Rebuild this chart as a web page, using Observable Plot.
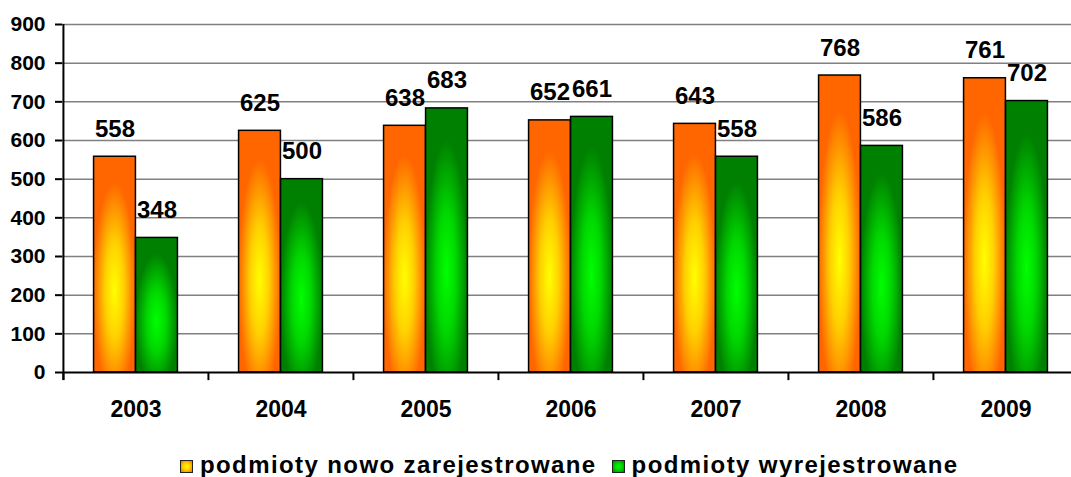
<!DOCTYPE html>
<html>
<head>
<meta charset="utf-8">
<script src="https://cdn.jsdelivr.net/npm/d3@7"></script>
<script src="https://cdn.jsdelivr.net/npm/@observablehq/plot@0.6"></script>
<style>
  html, body { margin: 0; padding: 0; background: #fff; overflow: hidden; }
  #wrap { position: relative; width: 1071px; height: 477px; overflow: hidden; font-family: "Liberation Sans", Arial, sans-serif; }
  #legend { position: absolute; left: 180px; top: 452px; font-weight: bold; font-size: 24px; white-space: nowrap; line-height: 26px; }
  .sw { display: inline-block; width: 11px; height: 11px; border: 1.5px solid #222; vertical-align: 0px; margin-right: 7px; }
  .item { display: inline-block; margin-right: 15px; }
</style>
</head>
<body>
<svg width="0" height="0" style="position:absolute">
  <defs>
    <radialGradient id="gOrange" cx="0.5" cy="0.62" r="0.5" gradientUnits="objectBoundingBox">
      <stop offset="0" stop-color="#ffff00"/>
      <stop offset="0.45" stop-color="#ffd000"/>
      <stop offset="1" stop-color="#ff6600"/>
    </radialGradient>
    <radialGradient id="gGreen" cx="0.5" cy="0.62" r="0.5" gradientUnits="objectBoundingBox">
      <stop offset="0" stop-color="#00ff00"/>
      <stop offset="0.45" stop-color="#00d800"/>
      <stop offset="1" stop-color="#008000"/>
    </radialGradient>
  </defs>
</svg>
<div id="wrap">
  <div id="chart"></div>
  <div id="legend"></div>
</div>
<script>
const years = ["2003", "2004", "2005", "2006", "2007", "2008", "2009"];
const registered = [558, 625, 638, 652, 643, 768, 761];
const deregistered = [348, 500, 683, 661, 558, 586, 702];
const seriesNames = ["podmioty nowo zarejestrowane", "podmioty wyrejestrowane"];
const yTicks = [0, 100, 200, 300, 400, 500, 600, 700, 800, 900];

const data1 = years.map((year, i) => ({year, value: registered[i]}));
const data2 = years.map((year, i) => ({year, value: deregistered[i]}));

const W = 1071, mL = 62, mR = -7;
const bw = (W - mL - mR) / years.length;   // band width
const barW = 42;
const gap = (bw - 2 * barW) / 2;

const chart = Plot.plot({
  width: W,
  height: 450,
  marginLeft: mL,
  marginRight: mR,
  marginTop: 24,
  marginBottom: 78,
  style: {fontFamily: "'Liberation Sans', Arial, sans-serif", background: "transparent", overflow: "visible"},
  x: {domain: years, padding: 0, axis: null},
  y: {domain: [0, 900], axis: null},
  marks: [
    Plot.ruleY(yTicks.slice(1), {stroke: "#808080", strokeWidth: 1.5}),
    Plot.barY(data1, {x: "year", y: "value", fill: "url(#gOrange)", stroke: "#000", strokeWidth: 1.5,
      insetLeft: gap, insetRight: bw - gap - barW}),
    Plot.barY(data2, {x: "year", y: "value", fill: "url(#gGreen)", stroke: "#000", strokeWidth: 1.5,
      insetLeft: gap + barW, insetRight: gap}),
    Plot.text(data1, {x: "year", y: "value", text: d => String(d.value), dx: -barW / 2, dy: -20,
      lineAnchor: "bottom", fontSize: 24, fontWeight: "bold", fill: "#000"}),
    Plot.text(data2, {x: "year", y: "value", text: d => String(d.value), dx: barW / 2, dy: -20,
      lineAnchor: "bottom", fontSize: 24, fontWeight: "bold", fill: "#000"}),
    Plot.ruleY([0], {stroke: "#000", strokeWidth: 2}),
    Plot.ruleX(years, {x: d => d, dx: -bw / 2, y1: 0, y2: -21, stroke: "#000", strokeWidth: 2}),
    Plot.ruleX(years.slice(0, 1), {x: d => d, dx: -bw / 2, y1: -21, y2: 900, stroke: "#000", strokeWidth: 2}),
    Plot.axisY({ticks: yTicks, label: null, tickSize: 7, tickPadding: 10, fontSize: 21, fontWeight: "bold", strokeWidth: 2, tickFormat: d => String(d)}),
    Plot.text(years, {x: d => d, y: 0, dy: 37, text: d => d, lineAnchor: "middle", fontSize: 23, fontWeight: "bold", fill: "#000"})
  ]
});
document.getElementById("chart").appendChild(chart);

const legend = document.getElementById("legend");
const grads = [
  "radial-gradient(ellipse at center, #ffff00 0%, #ffd000 45%, #ff6600 100%)",
  "radial-gradient(ellipse at center, #00ff00 0%, #00d800 45%, #008000 100%)"
];
seriesNames.forEach((name, i) => {
  const item = document.createElement("span");
  item.className = "item";
  const sw = document.createElement("span");
  sw.className = "sw";
  sw.style.background = grads[i];
  item.appendChild(sw);
  const t = document.createElement("span");
  t.style.letterSpacing = "1.4px";
  t.textContent = name;
  item.appendChild(t);
  legend.appendChild(item);
});
</script>
</body>
</html>
